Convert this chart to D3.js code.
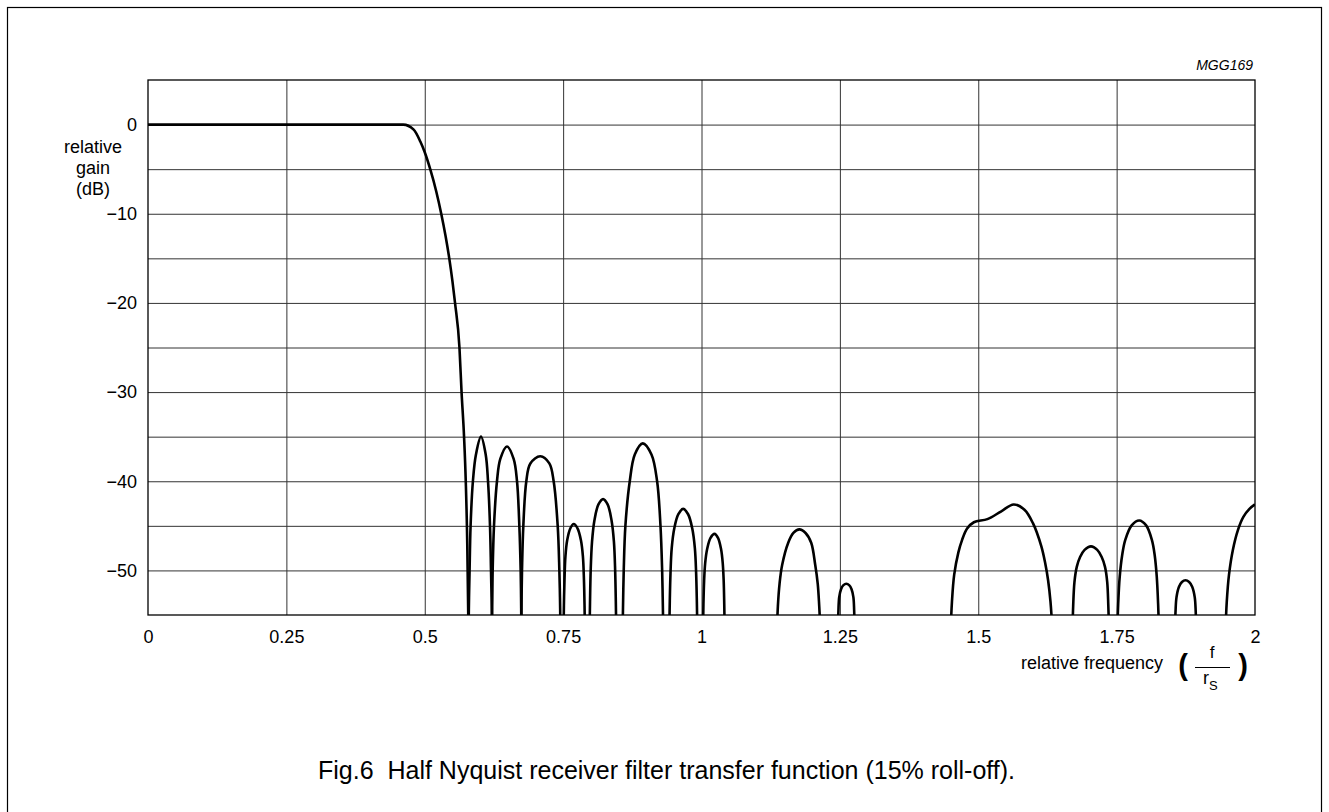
<!DOCTYPE html>
<html>
<head>
<meta charset="utf-8">
<script src="https://cdn.jsdelivr.net/npm/d3@7"></script>
<style>
  body { margin: 0; background: #fff; }
  text { font-family: "Liberation Sans", Arial, sans-serif; fill: #000; }
</style>
</head>
<body>
<div id="chart"></div>
<script>
// tick values and labels
const xTicks = [0, 0.25, 0.5, 0.75, 1, 1.25, 1.5, 1.75, 2];
const xTickLabels = ["0", "0.25", "0.5", "0.75", "1", "1.25", "1.5", "1.75", "2"];
const yTicks = [0, -10, -20, -30, -40, -50];
const yTickLabels = ["0", "\u221210", "\u221220", "\u221230", "\u221240", "\u221250"];
const yGrid = [0, -5, -10, -15, -20, -25, -30, -35, -40, -45, -50];

// passband + transition (relative frequency, dB)
const passband = [
  [0, 0], [0.25, 0], [0.461, 0], [0.48, -0.56], [0.492, -1.9], [0.5, -3.1],
  [0.5099, -5], [0.5208, -7.5], [0.5298, -10], [0.5376, -12.5], [0.5443, -15],
  [0.5499, -17.5], [0.5547, -20], [0.5627, -25], [0.5665, -30], [0.5710, -35],
  [0.5741, -40], [0.5768, -47], [0.5786, -55], [0.5788, -56]
];

// stopband lobes, each between two nulls
const lobe1 = [[0.5793, -56], [0.5800, -53], [0.5810, -50], [0.5828, -45], [0.5870, -40], [0.5925, -37], [0.6016, -35.0], [0.6101, -37], [0.6143, -40], [0.6179, -45], [0.6197, -50], [0.6207, -53], [0.6215, -56]];
const lobe2 = [[0.6215, -56], [0.6221, -53], [0.6227, -50], [0.6251, -45], [0.6305, -40], [0.6365, -37.5], [0.6486, -36.1], [0.6606, -37.5], [0.6667, -40], [0.6709, -45], [0.6733, -50], [0.6740, -53], [0.6745, -56]];
const lobe3 = [[0.6745, -56], [0.6750, -53], [0.6757, -50], [0.6781, -45], [0.6835, -40], [0.6908, -38], [0.7088, -37.2], [0.7251, -38], [0.7329, -40], [0.7402, -45], [0.7432, -50], [0.7443, -53], [0.745, -56]];
const lobe4 = [[0.7508, -57], [0.7514, -54], [0.7525, -51], [0.7542, -48.4], [0.7574, -46.6], [0.7629, -45.3], [0.7692, -44.8], [0.7762, -45.3], [0.7821, -46.6], [0.7857, -48.4], [0.7876, -51], [0.7887, -54], [0.7893, -57]];
const lobe5 = [[0.7978, -57], [0.7986, -53.5], [0.7998, -50], [0.8022, -46.8], [0.8065, -44.4], [0.8138, -42.6], [0.8222, -42.0], [0.8304, -42.6], [0.8375, -44.4], [0.8418, -46.8], [0.8440, -50], [0.8452, -53.5], [0.8460, -57]];
const lobe6 = [[0.8577, -56], [0.8585, -53], [0.8595, -50], [0.8625, -45], [0.8704, -40], [0.8795, -37], [0.8939, -35.75], [0.9096, -37], [0.9198, -40], [0.9259, -45], [0.9289, -50], [0.9299, -53], [0.9307, -56]];
const lobe7 = [[0.9418, -57], [0.9427, -53.5], [0.9440, -50.3], [0.9462, -47.5], [0.9508, -45.3], [0.9582, -43.7], [0.9669, -43.1], [0.9758, -43.7], [0.9833, -45.3], [0.9880, -47.5], [0.9903, -50.3], [0.9916, -53.5], [0.9925, -57]];
const lobe8 = [[1.0027, -57], [1.0035, -53.8], [1.0047, -51.2], [1.0066, -49.2], [1.0102, -47.6], [1.0163, -46.35], [1.0235, -45.9], [1.0298, -46.35], [1.0353, -47.6], [1.0384, -49.2], [1.0401, -51.2], [1.0411, -53.8], [1.0419, -57]];
const lobe9 = [[1.1362, -57], [1.1380, -54], [1.1410, -51.5], [1.1457, -49.4], [1.1567, -46.9], [1.1660, -45.8], [1.1768, -45.4], [1.1880, -45.8], [1.1982, -46.9], [1.2055, -49.4], [1.2100, -51.5], [1.2127, -54], [1.2150, -57]];
const lobe10 = [[1.2466, -57], [1.2474, -54.5], [1.2488, -53], [1.2521, -52.1], [1.2565, -51.65], [1.2616, -51.5], [1.2667, -51.65], [1.2711, -52.1], [1.2744, -53], [1.2758, -54.5], [1.2766, -57]];
const lobe11 = [[1.4500, -57], [1.4525, -53.5], [1.4565, -50.5], [1.4640, -48], [1.4707, -46.6], [1.4799, -45.3], [1.4921, -44.6], [1.5165, -44.25], [1.5409, -43.4], [1.5640, -42.6], [1.5835, -43.2], [1.5988, -44.7], [1.6140, -47.3], [1.6210, -49.2], [1.6262, -51.1], [1.6305, -53.5], [1.6342, -57]];
const lobe12 = [[1.6702, -57], [1.6715, -54], [1.6738, -51.3], [1.6780, -49.6], [1.6840, -48.5], [1.6921, -47.7], [1.7037, -47.3], [1.7150, -47.7], [1.7230, -48.5], [1.7290, -49.6], [1.7330, -51.3], [1.7350, -54], [1.7364, -57]];
const lobe13 = [[1.7513, -57], [1.7528, -53.8], [1.7556, -50.7], [1.7600, -48.3], [1.7655, -46.6], [1.7772, -44.95], [1.7909, -44.4], [1.8033, -44.95], [1.8138, -46.6], [1.8188, -48.3], [1.8225, -50.7], [1.8250, -53.8], [1.8266, -57]];
const lobe14 = [[1.8556, -57], [1.8565, -54.5], [1.8582, -53], [1.8625, -51.85], [1.8680, -51.3], [1.8744, -51.1], [1.8810, -51.3], [1.8867, -51.85], [1.8911, -53], [1.8928, -54.5], [1.8937, -57]];
const lobe15 = [[1.9466, -57], [1.9490, -53.5], [1.9530, -50.5], [1.9600, -47.7], [1.9690, -45.5], [1.9790, -44], [1.9900, -43.1], [2.0, -42.6]];

const lobes = [lobe1, lobe2, lobe3, lobe4, lobe5, lobe6, lobe7, lobe8,
  lobe9, lobe10, lobe11, lobe12, lobe13, lobe14, lobe15];

// plot box
const W = 1329, H = 812;
const margin = { top: 80, left: 148 };
const width = 1255 - 148;
const height = 615 - 80;

const svg = d3.select("#chart").append("svg")
  .attr("width", W)
  .attr("height", H);

// outer figure border (bottom edge runs off the page)
svg.append("rect")
  .attr("x", 7.5).attr("y", 7.5)
  .attr("width", 1314).attr("height", 830)
  .attr("fill", "none").attr("stroke", "#000").attr("stroke-width", 1.2);

const g = svg.append("g")
  .attr("transform", `translate(${margin.left},${margin.top})`);

const x = d3.scaleLinear().domain([0, 2]).range([0, width]);
const y = d3.scaleLinear().domain([-55, 5]).range([height, 0]);

// grid
g.append("g")
  .call(d3.axisBottom(x).tickValues(xTicks.slice(1, -1)).tickSize(height).tickFormat(""))
  .call(s => s.select(".domain").remove())
  .call(s => s.selectAll("line").attr("stroke", "#333").attr("stroke-width", 1));

g.append("g")
  .call(d3.axisLeft(y).tickValues(yGrid).tickSize(-width).tickFormat(""))
  .call(s => s.select(".domain").remove())
  .call(s => s.selectAll("line").attr("stroke", "#333").attr("stroke-width", 1));

// frame
g.append("rect")
  .attr("width", width).attr("height", height)
  .attr("fill", "none").attr("stroke", "#000").attr("stroke-width", 1.3);

// tick labels
g.append("g")
  .attr("transform", `translate(0,${height})`)
  .call(d3.axisBottom(x).tickValues(xTicks).tickSize(0).tickPadding(15)
    .tickFormat((d, i) => xTickLabels[i]))
  .call(s => s.select(".domain").remove())
  .call(s => s.selectAll("text").attr("font-size", 18).attr("font-family", "Liberation Sans, Arial, sans-serif"));

g.append("g")
  .call(d3.axisLeft(y).tickValues(yTicks).tickSize(0).tickPadding(11)
    .tickFormat((d, i) => yTickLabels[i]))
  .call(s => s.select(".domain").remove())
  .call(s => s.selectAll("text").attr("font-size", 18).attr("font-family", "Liberation Sans, Arial, sans-serif"));

// curve
g.append("clipPath").attr("id", "clip")
  .append("rect").attr("width", width).attr("height", height);

const bandLine = d3.line()
  .x(d => x(d[0]))
  .y(d => y(d[1]))
  .curve(d3.curveMonotoneX);

const lobeLine = d3.line()
  .x(d => x(d[0]))
  .y(d => y(d[1]))
  .curve(d3.curveCatmullRom.alpha(0.5));

const curves = g.append("g").attr("clip-path", "url(#clip)")
  .attr("fill", "none")
  .attr("stroke", "#000")
  .attr("stroke-width", 2.6)
  .attr("stroke-linejoin", "round");

curves.append("path").attr("d", bandLine(passband));
curves.selectAll(".lobe")
  .data(lobes)
  .join("path")
  .attr("class", "lobe")
  .attr("d", lobeLine);

// y axis title
const yTitle = svg.append("text").attr("text-anchor", "middle").attr("font-size", 18);
["relative", "gain", "(dB)"].forEach((t, i) => {
  yTitle.append("tspan").attr("x", 93).attr("y", 153 + i * 21).text(t);
});

// x axis title with f / r_s fraction
svg.append("text").attr("x", 1163).attr("y", 669).attr("text-anchor", "end")
  .attr("font-size", 18).text("relative frequency");
svg.append("text").attr("x", 1183).attr("y", 675).attr("text-anchor", "middle")
  .attr("font-size", 29).attr("font-weight", "bold").text("(");
svg.append("text").attr("x", 1243).attr("y", 675).attr("text-anchor", "middle")
  .attr("font-size", 29).attr("font-weight", "bold").text(")");
svg.append("text").attr("x", 1212).attr("y", 658).attr("text-anchor", "middle")
  .attr("font-size", 17).text("f");
svg.append("line").attr("x1", 1195).attr("x2", 1230).attr("y1", 667.5).attr("y2", 667.5)
  .attr("stroke", "#000").attr("stroke-width", 1);
const rs = svg.append("text").attr("x", 1203).attr("y", 684).attr("font-size", 18);
rs.append("tspan").text("r");
rs.append("tspan").attr("font-size", 13).attr("dy", 6).text("S");

// figure code
svg.append("text").attr("x", 1253).attr("y", 70).attr("text-anchor", "end")
  .attr("font-size", 14).attr("font-style", "italic").text("MGG169");

// caption
svg.append("text").attr("x", 318).attr("y", 779)
  .attr("font-size", 25)
  .style("white-space", "pre")
  .text("Fig.6  Half Nyquist receiver filter transfer function (15% roll-off).");
</script>
</body>
</html>
